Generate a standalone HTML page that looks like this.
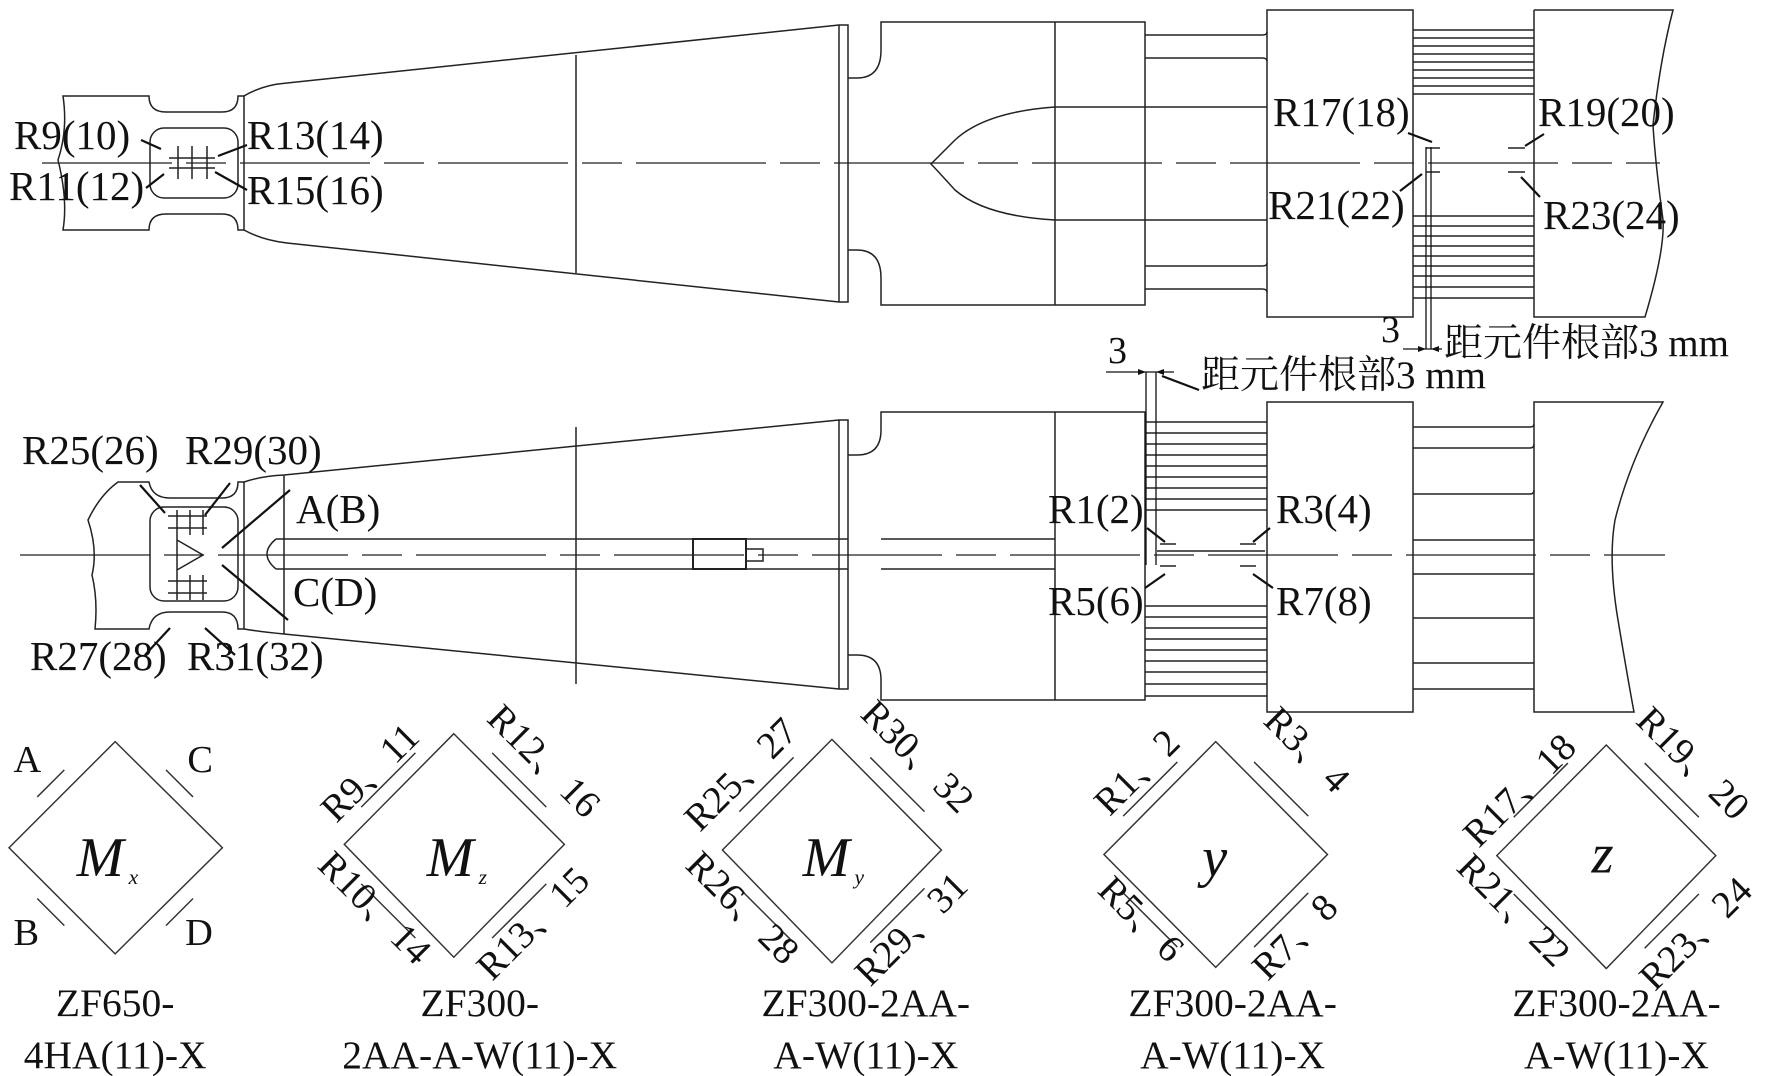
<!DOCTYPE html>
<html><head><meta charset="utf-8"><style>
html,body{margin:0;padding:0;background:#fff;}
svg{display:block;}
text{font-family:"Liberation Serif","Noto Serif CJK SC","Noto Sans CJK SC",serif;fill:#111;}
</style></head><body>
<svg width="1770" height="1076" viewBox="0 0 1770 1076" xmlns="http://www.w3.org/2000/svg">
<g fill="none" stroke="#222" stroke-width="1.5">
<!-- TOP SHAFT -->
<path d="M63,96 L149,96 Q149,112 166,112 L222,112 Q238,112 238,96 L244,96 L244,230 L238,230 Q238,214 222,214 L166,214 Q149,214 149,230 L63,230 Q68,200 58,160 Q68,130 63,96 Z"/>
<rect x="150" y="128" width="88" height="70" rx="14"/>
<path d="M244,96 Q262,85 287,83 L839,25 L848,25 L848,302 L839,302 L287,243 Q262,240 244,230"/>
<line x1="839" y1="25" x2="839" y2="302"/>
<line x1="576" y1="55" x2="576" y2="273"/>
<path d="M848,78 L857,78 Q881,78 881,50 L881,22 L1145,22 L1145,305 L881,305 L881,278 Q881,250 857,250 L848,250"/>
<line x1="1055" y1="22" x2="1055" y2="305"/>
<path d="M1145,107 L1055,107 Q985,112 955,140 Q935,160 931,164 Q935,168 955,190 Q985,216 1055,220 L1145,220"/>
<path d="M1145,35 L1262,35 Q1267,35 1267,32 M1145,58 L1262,58 Q1267,58 1267,61 M1145,107 L1267,107 M1145,220 L1267,220 M1145,266 L1262,266 Q1267,266 1267,263 M1145,289 L1262,289 Q1267,289 1267,292"/>
<rect x="1267" y="10" width="146" height="307"/>
<path d="M1413,30 L1534,30 M1413,38 L1534,38 M1413,46 L1534,46 M1413,54 L1534,54 M1413,62 L1534,62 M1413,70 L1534,70 M1413,78 L1534,78 M1413,86 L1534,86 M1413,94 L1534,94"/>
<path d="M1413,216 L1534,216 M1413,226 L1534,226 M1413,236 L1534,236 M1413,246 L1534,246 M1413,256 L1534,256 M1413,266 L1534,266 M1413,276 L1534,276 M1413,287 L1534,287 M1413,298 L1534,298"/>
<path d="M1534,10 L1534,317 L1645,317 Q1665,250 1663,220 Q1655,160 1653,125 Q1660,60 1673,10 L1534,10"/>
<path d="M169,158 L215,158 M169,168 L215,168 M178,146 L178,179 M192,146 L192,179 M207,146 L207,179"/>
<!-- BOTTOM SHAFT -->
<path d="M118,482 L149,482 Q152,498 170,498 L222,498 Q238,498 238,482 L244,482 L244,629 L238,629 Q238,612 222,612 L170,612 Q152,612 149,629 L95,629 Q98,600 92,575 Q98,550 88,520 Q100,495 118,482 Z"/>
<rect x="150" y="507" width="88" height="94" rx="14"/>
<path d="M244,482 Q262,476 284,475 L839,420 L848,420 L848,689 L839,689 L284,634 Q262,632 244,629"/>
<line x1="284" y1="475" x2="284" y2="634"/>
<line x1="839" y1="420" x2="839" y2="689"/>
<line x1="576" y1="427" x2="576" y2="684"/>
<path d="M276,539 L848,539 M276,569 L848,569 M276,539 Q258,554 276,569"/>
<rect x="693" y="539" width="53" height="30" stroke-width="2"/><rect x="746" y="549" width="17" height="12"/>
<path d="M848,455 L857,455 Q881,455 881,430 L881,412 L1145,412 L1145,700 L881,700 L881,680 Q881,655 857,655 L848,655"/>
<line x1="1055" y1="412" x2="1055" y2="700"/>
<path d="M881,539 L1055,539 M881,569 L1055,569"/>
<path d="M1145,422 L1267,422 M1145,433 L1267,433 M1145,444 L1267,444 M1145,455 L1267,455 M1145,466 L1267,466 M1145,477 L1267,477 M1145,488 L1267,488 M1145,499 L1267,499 M1145,510 L1267,510"/>
<path d="M1145,606 L1267,606 M1145,617 L1267,617 M1145,628 L1267,628 M1145,639 L1267,639 M1145,650 L1267,650 M1145,661 L1267,661 M1145,672 L1267,672 M1145,684 L1267,684 M1145,696 L1267,696"/>
<rect x="1267" y="402" width="146" height="310"/>
<path d="M1413,427 L1530,427 Q1534,427 1534,424 M1413,448 L1530,448 Q1534,448 1534,444 M1413,494 L1530,494 Q1534,494 1534,490 M1413,540 L1534,540 M1413,574 L1534,574 M1413,618 L1534,618 M1413,663 L1534,663 M1413,689 L1534,689"/>
<path d="M1534,402 L1663,402 Q1630,460 1615,520 Q1608,560 1618,620 Q1628,680 1634,712 L1534,712 Z"/>
<path d="M168,516 L207,516 M168,528 L207,528 M168,581 L207,581 M168,593 L207,593 M177,510 L177,600 M190,510 L190,535 M203,510 L203,535 M190,575 L190,600 M203,575 L203,600 M177,540 L203,555 L177,570"/>
<path d="M1426,148 L1440,148 M1426,172 L1440,172 M1508,148 L1525,148 M1508,172 L1525,172"/>
<path d="M1160,544 L1176,544 M1160,566 L1176,566 M1240,544 L1256,544 M1240,566 L1256,566 M1157,551 L1265,551"/>
</g>
<g stroke="#222" stroke-width="1.2" fill="none" stroke-dasharray="130,14,40,14">
<line x1="42" y1="163" x2="1660" y2="163"/>
<line x1="20" y1="555" x2="1665" y2="555"/>
</g>
<g stroke="#111" stroke-width="2.2" fill="none">
<path d="M141,140 L161,149 M146,188 L164,174 M218,156 L247,145 M215,172 L247,190"/>
<path d="M140,485 L165,513 M230,483 L205,515 M145,655 L170,628 M235,655 L205,628 M290,490 L222,548 M288,620 L222,565"/>
<path d="M1147,528 L1165,542 M1145,588 L1165,574 M1270,528 L1253,542 M1273,588 L1253,574"/>
<path d="M1408,133 L1432,142 M1400,191 L1422,174 M1544,134 L1525,146 M1521,177 L1540,197"/>
<path d="M1162,376 L1199,390"/>
</g>
<g stroke="#111" stroke-width="1.3" fill="none">
<path d="M1426,147 L1426,349 M1431,147 L1431,349 M1403,349 L1442,349"/>
<path d="M1106,372 L1174,372 M1146,372 L1146,565 M1156,372 L1156,565"/>
</g>
<g fill="#111"><path d="M1426,349 l-8,-3 l0,6 z M1431,349 l8,-3 l0,6 z M1146,372 l-8,-3 l0,6 z M1156,372 l8,-3 l0,6 z"/></g>
<g font-size="41">
<text x="14" y="149">R9(10)</text><text x="9" y="200">R11(12)</text>
<text x="247" y="149">R13(14)</text><text x="247" y="204">R15(16)</text>
<text x="1273" y="126">R17(18)</text><text x="1268" y="219">R21(22)</text>
<text x="1538" y="126">R19(20)</text><text x="1543" y="229">R23(24)</text>
<text x="1381" y="342" font-size="38">3</text><text x="1444" y="356" font-size="39">距元件根部3 mm</text>
<text x="1108" y="363" font-size="38">3</text><text x="1201" y="388" font-size="39">距元件根部3 mm</text>
<text x="22" y="464">R25(26)</text><text x="185" y="464">R29(30)</text>
<text x="296" y="523">A(B)</text><text x="293" y="606">C(D)</text>
<text x="30" y="670">R27(28)</text><text x="187" y="670">R31(32)</text>
<text x="1048" y="523">R1(2)</text><text x="1276" y="523">R3(4)</text>
<text x="1048" y="615">R5(6)</text><text x="1276" y="615">R7(8)</text>
</g>
<g transform="scale(1.1288)">
<g fill="none" stroke="#333" stroke-width="1.3">
<path d="M102,657 L197,751 L102,845 L8,751 Z"/>
<path d="M402,650 L500,748 L402,848 L305,748 Z"/>
<path d="M737,655 L834,753 L737,853 L640,753 Z"/>
<path d="M1077,657 L1176,757 L1077,857 L978,757 Z"/>
<path d="M1423,660 L1520,758 L1423,858 L1326,758 Z"/>
<path transform="translate(102,751)" d="M-69,-45 L-45,-69 M45,-69 L69,-45 M-69,45 L-45,69 M45,69 L69,45"/>
<path transform="translate(402,749)" d="M-82,-34 L-34,-82 M34,-82 L82,-34 M-82,34 L-34,82 M34,82 L82,34"/>
<path transform="translate(737,753)" d="M-82,-34 L-34,-82 M34,-82 L82,-34 M-82,34 L-34,82 M34,82 L82,34"/>
<path transform="translate(1077,757)" d="M-82,-34 L-34,-82 M34,-82 L82,-34 M-82,34 L-34,82 M34,82 L82,34"/>
<path transform="translate(1423,758)" d="M-82,-34 L-34,-82 M34,-82 L82,-34 M-82,34 L-34,82 M34,82 L82,34"/>
</g>
<g font-size="34">
<text x="12" y="684">A</text><text x="166" y="684">C</text>
<text x="12" y="837">B</text><text x="164" y="837">D</text>
<text x="68" y="776" font-size="50" font-style="italic">M</text><text x="114" y="783" font-size="19" font-style="italic">x</text>
<text x="378" y="776" font-size="50" font-style="italic">M</text><text x="424" y="783" font-size="19" font-style="italic">z</text>
<text x="711" y="776" font-size="50" font-style="italic">M</text><text x="757" y="783" font-size="19" font-style="italic">y</text>
<text x="1065" y="776" font-size="50" font-style="italic">y</text>
<text x="1410" y="773" font-size="50" font-style="italic">z</text>
<text transform="translate(298,730) rotate(-45)">R9、11</text>
<text transform="translate(430,638) rotate(45)">R12、16</text>
<text transform="translate(280,768) rotate(45)">R10、14</text>
<text transform="translate(436,870) rotate(-45)">R13、15</text>
<text transform="translate(620,738) rotate(-45)">R25、27</text>
<text transform="translate(761,634) rotate(45)">R30、32</text>
<text transform="translate(606,768) rotate(45)">R26、28</text>
<text transform="translate(771,875) rotate(-45)">R29、31</text>
<text transform="translate(983,724) rotate(-45)">R1、2</text>
<text transform="translate(1118,640) rotate(45)">R3、4</text>
<text transform="translate(971,790) rotate(45)">R5、6</text>
<text transform="translate(1123,870) rotate(-45)">R7、8</text>
<text transform="translate(1310,752) rotate(-45)">R17、18</text>
<text transform="translate(1448,640) rotate(45)">R19、20</text>
<text transform="translate(1289,770) rotate(45)">R21、22</text>
<text transform="translate(1466,879) rotate(-45)">R23、24</text>
</g>
<g font-size="35" text-anchor="middle">
<text x="102" y="900">ZF650-</text><text x="102" y="946">4HA(11)-X</text>
<text x="425" y="900">ZF300-</text><text x="425" y="946">2AA-A-W(11)-X</text>
<text x="767" y="900">ZF300-2AA-</text><text x="767" y="946">A-W(11)-X</text>
<text x="1092" y="900">ZF300-2AA-</text><text x="1092" y="946">A-W(11)-X</text>
<text x="1432" y="900">ZF300-2AA-</text><text x="1432" y="946">A-W(11)-X</text>
</g>
</g>
</svg>
</body></html>
